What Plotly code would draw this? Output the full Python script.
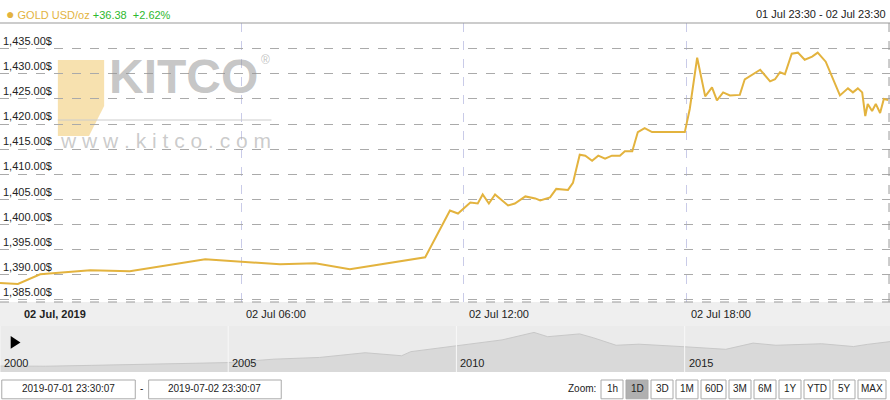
import pandas as pd
import plotly.graph_objects as go

# intraday gold quote, minutes after 01 Jul 23:30 and price
minutes = [0, 29, 65, 146, 210, 332, 453, 510, 566, 688, 728, 741, 761, 773, 781, 791, 801, 809,
           822, 833, 850, 866, 874, 890, 900, 919, 927, 938, 947, 958, 968, 979, 990, 1003, 1011,
           1023, 1032, 1043, 1055, 1108, 1116, 1128, 1141, 1152, 1160, 1170, 1181, 1197, 1205,
           1230, 1246, 1254, 1262, 1270, 1281, 1291, 1302, 1314, 1323, 1336, 1359, 1372, 1380,
           1388, 1395, 1400, 1404, 1411, 1417, 1424, 1430, 1437]
price = [1388.4, 1388.2, 1390.1, 1390.9, 1390.7, 1393.1, 1392.1, 1392.3, 1391.1, 1393.5, 1402.8,
         1402.2, 1404.4, 1404.2, 1406.0, 1404.2, 1406.0, 1405.2, 1403.8, 1404.2, 1405.6, 1405.2,
         1404.8, 1405.4, 1407.1, 1406.9, 1408.3, 1413.9, 1413.7, 1412.7, 1413.7, 1413.1, 1413.7,
         1413.7, 1414.6, 1414.6, 1418.4, 1419.2, 1418.4, 1418.4, 1423.0, 1433.2, 1425.5, 1427.3,
         1424.7, 1426.3, 1425.7, 1425.8, 1428.9, 1430.8, 1428.5, 1428.9, 1430.3, 1429.9, 1434.0,
         1434.2, 1432.8, 1433.4, 1434.2, 1432.4, 1425.7, 1427.1, 1426.3, 1427.1, 1426.3, 1421.6,
         1424.0, 1422.6, 1424.0, 1422.2, 1425.0, 1424.8]

# long-term navigator series
nav_year = [2000, 2001, 2002, 2003, 2004, 2005, 2006, 2006.5, 2007, 2008, 2008.8, 2009, 2010,
            2011, 2011.7, 2012, 2012.7, 2013, 2013.5, 2014, 2015, 2015.9, 2016.5, 2017, 2018,
            2018.7, 2019, 2019.5]
nav_price = [280, 270, 310, 360, 410, 440, 600, 650, 680, 900, 760, 950, 1220, 1500, 1850,
             1650, 1780, 1600, 1250, 1300, 1180, 1060, 1350, 1250, 1320, 1190, 1290, 1420]

y_ticks = [1385, 1390, 1395, 1400, 1405, 1410, 1415, 1420, 1425, 1430, 1435]
x_tick_labels = ["<b>02 Jul, 2019</b>", "02 Jul 06:00", "02 Jul 12:00", "02 Jul 18:00"]
nav_tick_labels = ["2000", "2005", "2010", "2015"]
zoom_buttons = ["1h", "1D", "3D", "1M", "60D", "3M", "6M", "1Y", "YTD", "5Y", "MAX"]

start = pd.Timestamp("2019-07-01 23:30")
times = [start + pd.Timedelta(minutes=m) for m in minutes]
tick_times = [pd.Timestamp("2019-07-02") + pd.Timedelta(hours=6 * i) for i in range(4)]

GOLD = "#e3b33e"
FONT = "Liberation Sans"

fig = go.Figure()
fig.add_trace(go.Scatter(x=times, y=price, mode="lines", line=dict(color=GOLD, width=2),
                         xaxis="x", yaxis="y", hoverinfo="skip"))
fig.add_trace(go.Scatter(x=nav_year, y=nav_price, mode="lines", fill="tozeroy",
                         line=dict(color="#c8c8c8", width=1), fillcolor="#d9d9d9",
                         xaxis="x2", yaxis="y2", hoverinfo="skip"))

shapes = [
    # time label band and navigator band
    dict(type="rect", xref="paper", yref="paper", x0=0, x1=1, y0=0.185, y1=0.245,
         fillcolor="#efefef", line_width=0, layer="below"),
    dict(type="rect", xref="paper", yref="paper", x0=0, x1=1, y0=0.07, y1=0.185,
         fillcolor="#ebebeb", line_width=0, layer="below"),
    dict(type="line", xref="paper", yref="paper", x0=0, x1=1, y0=0.9425, y1=0.9425,
         line=dict(color="#999", width=1)),
    dict(type="line", xref="paper", yref="paper", x0=0, x1=1, y0=0.245, y1=0.245,
         line=dict(color="#999", width=1, dash="dash")),
    dict(type="line", xref="paper", yref="paper", x0=0.9989, x1=0.9989, y0=0.245, y1=0.9425,
         line=dict(color="#999", width=1, dash="dash")),
    # logo block
    dict(type="path", xref="paper", yref="paper",
         path="M 0.065 0.85 L 0.117 0.85 L 0.117 0.735 L 0.1 0.66 L 0.065 0.66 Z",
         fillcolor="rgba(240,200,110,0.55)", line_width=0, layer="below"),
    dict(type="line", xref="paper", yref="paper", x0=0.065, x1=0.305, y0=0.7, y1=0.7,
         line=dict(color="#ccc", width=1)),
    # play triangle
    dict(type="path", xref="paper", yref="paper", path="M 0.012 0.16 L 0.012 0.128 L 0.023 0.144 Z",
         fillcolor="black", line_width=0),
]
annotations = [
    dict(x=0.004, y=0.966, xref="paper", yref="paper", xanchor="left", yanchor="middle",
         showarrow=False, font=dict(family=FONT, size=11, color=GOLD),
         text="<span style='font-size:14px'>●</span> GOLD USD/oz "
              "<span style='color:#2eb82e'>+36.38  +2.62%</span>"),
    dict(x=0.998, y=0.966, xref="paper", yref="paper", xanchor="right", yanchor="middle",
         showarrow=False, font=dict(family=FONT, size=11, color="#222"),
         text="01 Jul 23:30 - 02 Jul 23:30"),
    dict(x=0.12, y=0.808, xref="paper", yref="paper", xanchor="left", yanchor="middle",
         showarrow=False, font=dict(family=FONT, size=48, color="rgba(150,150,150,0.55)"),
         text="<b>KITCO</b>"),
    dict(x=0.298, y=0.85, xref="paper", yref="paper", xanchor="center", yanchor="middle",
         showarrow=False, font=dict(family=FONT, size=12, color="rgba(150,150,150,0.6)"), text="®"),
    dict(x=0.065, y=0.65, xref="paper", yref="paper", xanchor="left", yanchor="middle",
         showarrow=False, font=dict(family=FONT, size=21, color="rgba(160,160,160,0.55)"),
         text="w w w . k i t c o . c o m"),
]
for t, lab in zip(tick_times, x_tick_labels):
    annotations.append(dict(x=t, y=0.216, xref="x", yref="paper", xanchor="left",
                            yanchor="middle", xshift=3, showarrow=False,
                            font=dict(family=FONT, size=11, color="#222"), text=lab))
for yr in nav_tick_labels:
    annotations.append(dict(x=int(yr), y=0.092, xref="x2", yref="paper", xanchor="left",
                            yanchor="middle", xshift=2, showarrow=False,
                            font=dict(family=FONT, size=11, color="#222"), text=yr))
    shapes.append(dict(type="line", xref="x2", yref="paper", x0=int(yr), x1=int(yr),
                       y0=0.07, y1=0.185, line=dict(color="#f8f8f8", width=1)))

BTN_Y0, BTN_Y1 = 0.003, 0.05
btn_text = dict(yref="paper", xref="paper", y=BTN_Y0, yanchor="bottom", yshift=3,
                xanchor="center", showarrow=False,
                font=dict(family=FONT, size=10, color="#222"))

# date range boxes
for x0, x1, lab in [(0.002, 0.152, "2019-07-01 23:30:07"), (0.167, 0.316, "2019-07-02 23:30:07")]:
    shapes.append(dict(type="rect", xref="paper", yref="paper", x0=x0, x1=x1, y0=BTN_Y0, y1=BTN_Y1,
                       line=dict(color="#aaa", width=1), fillcolor="white", layer="below"))
    annotations.append(dict(btn_text, x=(x0 + x1) / 2, text=lab))
annotations.append(dict(btn_text, x=0.159, text="-"))
annotations.append(dict(btn_text, x=0.672, xanchor="right", text="Zoom:"))

widths = [22, 22, 22, 22, 25, 22, 22, 22, 26, 22, 28]
xp = 601
for lab, w in zip(zoom_buttons, widths):
    sel = lab == "1D"
    shapes.append(dict(type="rect", xref="paper", yref="paper", x0=xp / 890, x1=(xp + w) / 890,
                       y0=BTN_Y0, y1=BTN_Y1, line=dict(color="#aaa", width=1), layer="below",
                       fillcolor="#b0b0b0" if sel else "white"))
    annotations.append(dict(btn_text, x=(xp + w / 2) / 890, text=lab))
    xp += w + 3

fig.update_layout(
    width=890, height=400, margin=dict(l=0, r=0, t=0, b=0),
    paper_bgcolor="white", plot_bgcolor="white", showlegend=False,
    font=dict(family=FONT, size=11, color="#222"),
    xaxis=dict(domain=[0, 1], range=[start, start + pd.Timedelta(hours=24)], tickvals=tick_times,
               showticklabels=False, showgrid=True, gridcolor="#c9cbe8", griddash="dash",
               zeroline=False, ticks=""),
    yaxis=dict(domain=[0.245, 0.9425], range=[1384.6, 1440.1], tickvals=y_ticks,
               ticktext=[f"{v:,.2f}$" for v in y_ticks], ticklabelposition="inside top",
               showgrid=True, gridcolor="#aaa", griddash="dash", zeroline=False,
               tickfont=dict(size=11, color="#222")),
    xaxis2=dict(domain=[0, 1], range=[2000, 2019.5], showticklabels=False, showgrid=False,
                zeroline=False, anchor="y2"),
    yaxis2=dict(domain=[0.07, 0.185], range=[0, 2150], showticklabels=False, showgrid=False,
                zeroline=False, anchor="x2"),
    shapes=shapes, annotations=annotations,
)
fig.write_html("out.html", config={"displayModeBar": False},
               post_script="document.body.style.margin='0';")
